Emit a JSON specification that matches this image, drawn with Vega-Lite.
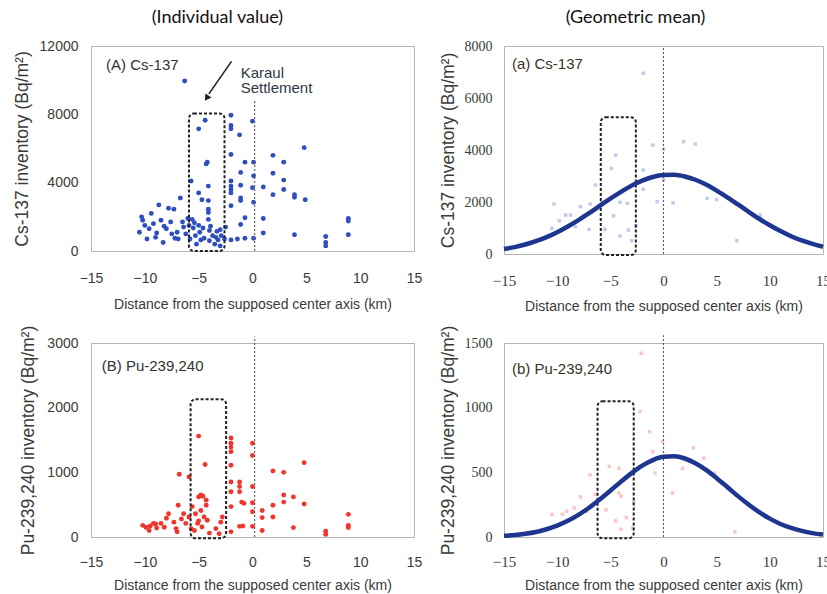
{
  "$schema": "https://vega.github.io/schema/vega-lite/v6.json",
  "padding": {"left": 12, "top": 8, "right": 0, "bottom": 0},
  "config": {
    "font": "Liberation Sans",
    "view": {"stroke": "#b5b5b5", "strokeWidth": 1},
    "axis": {"grid": false, "domain": false, "ticks": false, "labelColor": "#3a3a3a", "titleColor": "#3a3a3a", "titleFontWeight": "normal", "labelFont": "Liberation Sans", "titleFont": "Liberation Sans", "labelFlush": false, "labelOverlap": false},
    "title": {"font": "Lato", "fontSize": 18, "fontWeight": "normal", "color": "#111111", "offset": 12, "frame": "bounds"}
  },
  "datasets": {
    "csIndividual": [
      {"distance": -10.5, "inventory": 1100}, {"distance": -10.3, "inventory": 2000}, {"distance": -10.2, "inventory": 1800}, {"distance": -10.0, "inventory": 1500}, {"distance": -9.8, "inventory": 700}, {"distance": -9.6, "inventory": 1300}, {"distance": -9.4, "inventory": 2200}, {"distance": -9.2, "inventory": 1600}, {"distance": -9.0, "inventory": 800}, {"distance": -8.9, "inventory": 1050}, {"distance": -8.7, "inventory": 2700}, {"distance": -8.5, "inventory": 1800}, {"distance": -8.3, "inventory": 500}, {"distance": -8.2, "inventory": 1450}, {"distance": -8.0, "inventory": 1300}, {"distance": -7.8, "inventory": 2500}, {"distance": -7.6, "inventory": 1700}, {"distance": -7.5, "inventory": 1000}, {"distance": -7.3, "inventory": 2450}, {"distance": -7.2, "inventory": 750}, {"distance": -7.0, "inventory": 1100}, {"distance": -6.9, "inventory": 700}, {"distance": -6.7, "inventory": 3100}, {"distance": -6.5, "inventory": 1700}, {"distance": -6.4, "inventory": 1400}, {"distance": -6.3, "inventory": 9950}, {"distance": -6.2, "inventory": 1000}, {"distance": -6.0, "inventory": 1900}, {"distance": -5.9, "inventory": 1500}, {"distance": -5.8, "inventory": 700},
      {"distance": -5.7, "inventory": 4100}, {"distance": -5.6, "inventory": 1850}, {"distance": -5.5, "inventory": 1350}, {"distance": -5.4, "inventory": 1650}, {"distance": -5.3, "inventory": 900}, {"distance": -5.2, "inventory": 400}, {"distance": -5.0, "inventory": 3400}, {"distance": -5.0, "inventory": 7150}, {"distance": -5.0, "inventory": 1500}, {"distance": -4.9, "inventory": 1100}, {"distance": -4.8, "inventory": 650}, {"distance": -4.7, "inventory": 3000}, {"distance": -4.6, "inventory": 1350}, {"distance": -4.5, "inventory": 750}, {"distance": -4.4, "inventory": 7650}, {"distance": -4.3, "inventory": 5100}, {"distance": -4.2, "inventory": 5200}, {"distance": -4.1, "inventory": 3800}, {"distance": -4.1, "inventory": 2950}, {"distance": -4.1, "inventory": 2450}, {"distance": -4.1, "inventory": 2250}, {"distance": -4.1, "inventory": 1850}, {"distance": -4.0, "inventory": 1200}, {"distance": -4.0, "inventory": 600}, {"distance": -3.9, "inventory": 1450}, {"distance": -3.7, "inventory": 900}, {"distance": -3.5, "inventory": 400}, {"distance": -3.4, "inventory": 800}, {"distance": -3.3, "inventory": 1150}, {"distance": -3.2, "inventory": 650}, {"distance": -3.0, "inventory": 1250}, {"distance": -3.0, "inventory": 300}, {"distance": -2.9, "inventory": 900},
      {"distance": -2.0, "inventory": 7950}, {"distance": -2.0, "inventory": 7350}, {"distance": -2.0, "inventory": 7150}, {"distance": -1.2, "inventory": 6800}, {"distance": 0.0, "inventory": 7600}, {"distance": -2.0, "inventory": 5650}, {"distance": 1.9, "inventory": 5600}, {"distance": 4.8, "inventory": 6050}, {"distance": 2.9, "inventory": 5200}, {"distance": -0.7, "inventory": 5200}, {"distance": 0.1, "inventory": 5200}, {"distance": -1.1, "inventory": 4600}, {"distance": 1.9, "inventory": 4550}, {"distance": 0.1, "inventory": 4400}, {"distance": -2.0, "inventory": 4100}, {"distance": -2.0, "inventory": 3800}, {"distance": -2.0, "inventory": 3600}, {"distance": -2.0, "inventory": 3400}, {"distance": -1.1, "inventory": 3850}, {"distance": 0.0, "inventory": 3700}, {"distance": 1.0, "inventory": 3750}, {"distance": 2.9, "inventory": 4150}, {"distance": 2.9, "inventory": 3600}, {"distance": 3.9, "inventory": 3300}, {"distance": 3.9, "inventory": 3150}, {"distance": 1.9, "inventory": 3300}, {"distance": 4.9, "inventory": 3000}, {"distance": -1.1, "inventory": 3100}, {"distance": -1.1, "inventory": 2950}, {"distance": 0.1, "inventory": 2850}, {"distance": -2.0, "inventory": 2650}, {"distance": -2.0, "inventory": 650}, {"distance": -1.1, "inventory": 1550}, {"distance": -0.7, "inventory": 1950}, {"distance": 1.0, "inventory": 1900}, {"distance": 1.0, "inventory": 1050}, {"distance": -0.7, "inventory": 750}, {"distance": 0.1, "inventory": 750}, {"distance": -1.4, "inventory": 700}, {"distance": 3.9, "inventory": 950}, {"distance": 6.8, "inventory": 850}, {"distance": 6.8, "inventory": 500}, {"distance": 6.8, "inventory": 300}, {"distance": 8.9, "inventory": 1900}, {"distance": 8.9, "inventory": 1750}, {"distance": 8.9, "inventory": 950}, {"distance": -2.5, "inventory": 1400}, {"distance": -2.6, "inventory": 700}
    ],
    "puIndividual": [
      {"distance": -10.2, "inventory": 180}, {"distance": -9.9, "inventory": 150}, {"distance": -9.6, "inventory": 100}, {"distance": -9.5, "inventory": 170}, {"distance": -9.2, "inventory": 210}, {"distance": -9.0, "inventory": 200}, {"distance": -8.9, "inventory": 140}, {"distance": -8.5, "inventory": 210}, {"distance": -8.2, "inventory": 150}, {"distance": -8.0, "inventory": 290}, {"distance": -7.8, "inventory": 360}, {"distance": -7.3, "inventory": 230}, {"distance": -7.1, "inventory": 130}, {"distance": -7.0, "inventory": 80}, {"distance": -6.9, "inventory": 490}, {"distance": -6.8, "inventory": 970}, {"distance": -6.6, "inventory": 280}, {"distance": -6.4, "inventory": 360}, {"distance": -6.2, "inventory": 210}, {"distance": -5.9, "inventory": 930}, {"distance": -5.9, "inventory": 310}, {"distance": -5.7, "inventory": 130},
      {"distance": -5.6, "inventory": 470}, {"distance": -5.4, "inventory": 100}, {"distance": -5.3, "inventory": 360}, {"distance": -5.1, "inventory": 210}, {"distance": -5.0, "inventory": 1560}, {"distance": -5.0, "inventory": 620}, {"distance": -5.0, "inventory": 250}, {"distance": -4.8, "inventory": 410}, {"distance": -4.8, "inventory": 650}, {"distance": -4.7, "inventory": 155}, {"distance": -4.6, "inventory": 630}, {"distance": -4.5, "inventory": 310}, {"distance": -4.4, "inventory": 1120}, {"distance": -4.3, "inventory": 570}, {"distance": -4.3, "inventory": 490}, {"distance": -4.2, "inventory": 260}, {"distance": -4.0, "inventory": 60}, {"distance": -3.4, "inventory": 130}, {"distance": -3.1, "inventory": 50}, {"distance": -2.95, "inventory": 230}, {"distance": -2.8, "inventory": 310},
      {"distance": -2.0, "inventory": 1530}, {"distance": -2.0, "inventory": 1450}, {"distance": -2.0, "inventory": 1390}, {"distance": -2.0, "inventory": 1320}, {"distance": 0.0, "inventory": 1450}, {"distance": 0.0, "inventory": 1260}, {"distance": -2.0, "inventory": 1110}, {"distance": -2.0, "inventory": 850}, {"distance": -1.2, "inventory": 850}, {"distance": -1.2, "inventory": 780}, {"distance": -1.2, "inventory": 700}, {"distance": 0.0, "inventory": 780}, {"distance": -2.0, "inventory": 700}, {"distance": -2.0, "inventory": 470}, {"distance": -1.0, "inventory": 540}, {"distance": -0.8, "inventory": 520}, {"distance": 0.0, "inventory": 530}, {"distance": 0.0, "inventory": 390}, {"distance": 0.9, "inventory": 410}, {"distance": 0.9, "inventory": 300}, {"distance": 1.9, "inventory": 1020}, {"distance": 2.9, "inventory": 1000}, {"distance": 2.9, "inventory": 650}, {"distance": 2.9, "inventory": 540}, {"distance": 3.8, "inventory": 620}, {"distance": 4.8, "inventory": 1150}, {"distance": 4.8, "inventory": 510}, {"distance": 1.9, "inventory": 490}, {"distance": 1.9, "inventory": 310}, {"distance": 3.8, "inventory": 145}, {"distance": 0.9, "inventory": 100}, {"distance": 0.0, "inventory": 165}, {"distance": -1.2, "inventory": 165}, {"distance": -0.9, "inventory": 170}, {"distance": -2.0, "inventory": 80}, {"distance": 6.8, "inventory": 90}, {"distance": 6.8, "inventory": 40}, {"distance": 8.9, "inventory": 350}, {"distance": 8.9, "inventory": 180}, {"distance": 8.9, "inventory": 145}
    ],
    "csMean": [
      {"distance": -1.9, "inventory": 6950}, {"distance": -10.3, "inventory": 1920}, {"distance": -9.8, "inventory": 1280}, {"distance": -9.2, "inventory": 1500}, {"distance": -8.75, "inventory": 1500}, {"distance": -10.5, "inventory": 990}, {"distance": -7.8, "inventory": 1820}, {"distance": -6.9, "inventory": 1920}, {"distance": -6.4, "inventory": 2650}, {"distance": -7.0, "inventory": 950}, {"distance": -5.8, "inventory": 1970}, {"distance": -5.5, "inventory": 950}, {"distance": -4.9, "inventory": 3290}, {"distance": -4.5, "inventory": 3800}, {"distance": -4.1, "inventory": 1990}, {"distance": -4.7, "inventory": 1470}, {"distance": -4.1, "inventory": 690}, {"distance": -3.3, "inventory": 920}, {"distance": -3.0, "inventory": 510}, {"distance": -2.6, "inventory": 1080}, {"distance": -1.9, "inventory": 3230}, {"distance": -1.9, "inventory": 2490}, {"distance": -1.0, "inventory": 4190}, {"distance": 0.0, "inventory": 4030}, {"distance": 0.0, "inventory": 2850}, {"distance": -0.6, "inventory": 2010}, {"distance": 0.9, "inventory": 1970}, {"distance": 1.9, "inventory": 4320}, {"distance": 3.0, "inventory": 4230}, {"distance": 4.1, "inventory": 2140}, {"distance": 5.0, "inventory": 2100}, {"distance": 6.9, "inventory": 510}, {"distance": 9.1, "inventory": 1500}, {"distance": -3.4, "inventory": 1950}, {"distance": -8.3, "inventory": 1050}
    ],
    "puMean": [
      {"distance": -2.1, "inventory": 1420}, {"distance": -2.2, "inventory": 970}, {"distance": -1.3, "inventory": 815}, {"distance": -0.1, "inventory": 740}, {"distance": -1.0, "inventory": 660}, {"distance": -2.0, "inventory": 550}, {"distance": -0.8, "inventory": 495}, {"distance": 0.85, "inventory": 340}, {"distance": 1.8, "inventory": 530}, {"distance": 2.8, "inventory": 690}, {"distance": 3.8, "inventory": 610}, {"distance": 4.8, "inventory": 495}, {"distance": -6.9, "inventory": 480}, {"distance": -5.1, "inventory": 545}, {"distance": -4.2, "inventory": 530}, {"distance": -4.2, "inventory": 340}, {"distance": -4.0, "inventory": 315}, {"distance": -6.4, "inventory": 330}, {"distance": -7.8, "inventory": 310}, {"distance": -7.2, "inventory": 200}, {"distance": -9.1, "inventory": 200}, {"distance": -9.5, "inventory": 175}, {"distance": -10.5, "inventory": 175}, {"distance": -8.4, "inventory": 225}, {"distance": -5.4, "inventory": 210}, {"distance": -4.5, "inventory": 125}, {"distance": -4.0, "inventory": 60}, {"distance": -3.5, "inventory": 150}, {"distance": -2.9, "inventory": 70}, {"distance": -2.8, "inventory": 265}, {"distance": 8.9, "inventory": 200}, {"distance": 6.7, "inventory": 40}
    ],
    "csFit": [
      {"distance": -15, "inventory": 190}, {"distance": -14, "inventory": 265}, {"distance": -13, "inventory": 365}, {"distance": -12, "inventory": 495}, {"distance": -11, "inventory": 650}, {"distance": -10, "inventory": 840}, {"distance": -9, "inventory": 1060}, {"distance": -8, "inventory": 1305}, {"distance": -7, "inventory": 1570}, {"distance": -6, "inventory": 1850}, {"distance": -5, "inventory": 2130}, {"distance": -4, "inventory": 2390}, {"distance": -3, "inventory": 2630}, {"distance": -2, "inventory": 2820}, {"distance": -1, "inventory": 2960}, {"distance": 0, "inventory": 3035}, {"distance": 1, "inventory": 3045}, {"distance": 2, "inventory": 2980}, {"distance": 3, "inventory": 2855}, {"distance": 4, "inventory": 2670}, {"distance": 5, "inventory": 2440}, {"distance": 6, "inventory": 2180}, {"distance": 7, "inventory": 1905}, {"distance": 8, "inventory": 1625}, {"distance": 9, "inventory": 1355}, {"distance": 10, "inventory": 1105}, {"distance": 11, "inventory": 880}, {"distance": 12, "inventory": 685}, {"distance": 13, "inventory": 520}, {"distance": 14, "inventory": 390}, {"distance": 15, "inventory": 280}
    ],
    "puFit": [
      {"distance": -15, "inventory": 9}, {"distance": -14, "inventory": 15}, {"distance": -13, "inventory": 25}, {"distance": -12, "inventory": 39}, {"distance": -11, "inventory": 60}, {"distance": -10, "inventory": 88}, {"distance": -9, "inventory": 125}, {"distance": -8, "inventory": 171}, {"distance": -7, "inventory": 226}, {"distance": -6, "inventory": 290}, {"distance": -5, "inventory": 358}, {"distance": -4, "inventory": 428}, {"distance": -3, "inventory": 494}, {"distance": -2, "inventory": 552}, {"distance": -1, "inventory": 595}, {"distance": 0, "inventory": 620}, {"distance": 1, "inventory": 624}, {"distance": 2, "inventory": 607}, {"distance": 3, "inventory": 571}, {"distance": 4, "inventory": 519}, {"distance": 5, "inventory": 455}, {"distance": 6, "inventory": 386}, {"distance": 7, "inventory": 316}, {"distance": 8, "inventory": 251}, {"distance": 9, "inventory": 192}, {"distance": 10, "inventory": 142}, {"distance": 11, "inventory": 101}, {"distance": 12, "inventory": 70}, {"distance": 13, "inventory": 47}, {"distance": 14, "inventory": 30}, {"distance": 15, "inventory": 19}
    ]
  },
  "columns": 2,
  "spacing": {"row": 10, "column": 15},
  "concat": [
    {
      "width": 323, "height": 205,
      "title": {"text": "(Individual value)"},
      "layer": [
        {"data": {"name": "csIndividual"}, "mark": {"type": "circle", "size": 24, "opacity": 1, "color": "#2e4fbd"},
         "encoding": {
           "x": {"field": "distance", "type": "quantitative", "scale": {"domain": [-15, 15], "nice": false, "zero": false},
                 "axis": {"values": [-15, -10, -5, 0, 5, 10, 15], "title": "Distance from the supposed center axis (km)", "labelFontSize": 14, "labelPadding": 20, "titleFontSize": 14, "titlePadding": 12}},
           "y": {"field": "inventory", "type": "quantitative", "scale": {"domain": [0, 12000], "nice": false},
                 "axis": {"values": [0, 4000, 8000, 12000], "format": "d", "title": "Cs-137 inventory (Bq/m²)", "labelFontSize": 14, "labelPadding": 13, "titleFontSize": 17.5, "titlePadding": 8}}
         }},
        {"data": {"values": [{}]}, "mark": {"type": "rule", "color": "#666666", "strokeWidth": 1.2, "strokeDash": [2, 2]},
         "encoding": {"x": {"datum": 0.2}, "y": {"datum": 0}, "y2": {"datum": 8780}}},
        {"data": {"values": [{}]}, "mark": {"type": "rect", "fillOpacity": 0, "stroke": "#222222", "strokeWidth": 2, "strokeDash": [3, 2], "cornerRadius": 5},
         "encoding": {"x": {"datum": -5.9}, "x2": {"datum": -2.6}, "y": {"datum": 0}, "y2": {"datum": 8050}}},
        {"data": {"values": [{}]}, "mark": {"type": "rule", "color": "#222222", "strokeWidth": 1.6},
         "encoding": {"x": {"datum": -1.95}, "y": {"datum": 11100}, "x2": {"datum": -4.05}, "y2": {"datum": 9200}}},
        {"data": {"values": [{}]}, "mark": {"type": "point", "shape": "triangle", "filled": true, "color": "#222222", "size": 55, "angle": 214, "opacity": 1},
         "encoding": {"x": {"datum": -4.2}, "y": {"datum": 9000}}},
        {"data": {"values": [{"label": "(A) Cs-137"}]}, "mark": {"type": "text", "align": "left", "baseline": "middle", "fontSize": 15, "color": "#333333"},
         "encoding": {"x": {"datum": -13.6}, "y": {"datum": 10880}, "text": {"field": "label"}}},
        {"data": {"values": [{"label": ["Karaul", "Settlement"]}]}, "mark": {"type": "text", "align": "left", "baseline": "middle", "fontSize": 15, "lineHeight": 15, "color": "#2f3945"},
         "encoding": {"x": {"datum": -1.1}, "y": {"datum": 10430}, "text": {"field": "label"}}}
      ]
    },
    {
      "width": 319, "height": 208,
      "title": {"text": "(Geometric mean)"},
      "layer": [
        {"data": {"name": "csMean"}, "mark": {"type": "square", "size": 12, "opacity": 0.35, "color": "#5a62c4"},
         "encoding": {
           "x": {"field": "distance", "type": "quantitative", "scale": {"domain": [-15, 15], "nice": false, "zero": false},
                 "axis": {"values": [-15, -10, -5, 0, 5, 10, 15], "title": "Distance from the supposed center axis (km)", "labelFont": "Liberation Sans Narrow", "labelFontSize": 15, "labelPadding": 19, "titleFontSize": 14, "titlePadding": 11}},
           "y": {"field": "inventory", "type": "quantitative", "scale": {"domain": [0, 8000], "nice": false},
                 "axis": {"values": [0, 2000, 4000, 6000, 8000], "format": "d", "title": "Cs-137 inventory (Bq/m²)", "labelFont": "Liberation Sans Narrow", "labelFontSize": 14, "labelPadding": 12, "titleFontSize": 17.5, "titlePadding": 7}}
         }},
        {"data": {"values": [{}]}, "mark": {"type": "rule", "color": "#555555", "strokeWidth": 1.1, "strokeDash": [2, 2]},
         "encoding": {"x": {"datum": 0}, "y": {"datum": 0}, "y2": {"datum": 8000}}},
        {"data": {"values": [{}]}, "mark": {"type": "rect", "fillOpacity": 0, "stroke": "#222222", "strokeWidth": 2, "strokeDash": [3, 2], "cornerRadius": 5},
         "encoding": {"x": {"datum": -5.9}, "x2": {"datum": -2.6}, "y": {"datum": -40}, "y2": {"datum": 5260}}},
        {"data": {"name": "csFit"}, "mark": {"type": "line", "color": "#1f3690", "strokeWidth": 4.5, "interpolate": "monotone"},
         "encoding": {"x": {"field": "distance", "type": "quantitative"}, "y": {"field": "inventory", "type": "quantitative"}}},
        {"data": {"values": [{"label": "(a) Cs-137"}]}, "mark": {"type": "text", "align": "left", "baseline": "middle", "fontSize": 15, "color": "#3b3328"},
         "encoding": {"x": {"datum": -14.25}, "y": {"datum": 7300}, "text": {"field": "label"}}}
      ]
    },
    {
      "width": 323, "height": 194,
      "layer": [
        {"data": {"name": "puIndividual"}, "mark": {"type": "circle", "size": 24, "opacity": 1, "color": "#f0362c"},
         "encoding": {
           "x": {"field": "distance", "type": "quantitative", "scale": {"domain": [-15, 15], "nice": false, "zero": false},
                 "axis": {"values": [-15, -10, -5, 0, 5, 10, 15], "title": "Distance from the supposed center axis (km)", "labelFontSize": 14, "labelPadding": 18, "titleFontSize": 14, "titlePadding": 9}},
           "y": {"field": "inventory", "type": "quantitative", "scale": {"domain": [0, 3000], "nice": false},
                 "axis": {"values": [0, 1000, 2000, 3000], "format": "d", "title": "Pu-239,240 inventory (Bq/m²)", "labelFontSize": 14, "labelPadding": 13, "titleFontSize": 17.5, "titlePadding": 9}}
         }},
        {"data": {"values": [{}]}, "mark": {"type": "rule", "color": "#666666", "strokeWidth": 1.2, "strokeDash": [2, 2]},
         "encoding": {"x": {"datum": 0.2}, "y": {"datum": 0}, "y2": {"datum": 3100}}},
        {"data": {"values": [{}]}, "mark": {"type": "rect", "fillOpacity": 0, "stroke": "#222222", "strokeWidth": 2, "strokeDash": [3, 2], "cornerRadius": 5},
         "encoding": {"x": {"datum": -5.75}, "x2": {"datum": -2.45}, "y": {"datum": -20}, "y2": {"datum": 2130}}},
        {"data": {"values": [{"label": "(B) Pu-239,240"}]}, "mark": {"type": "text", "align": "left", "baseline": "middle", "fontSize": 15, "color": "#333333"},
         "encoding": {"x": {"datum": -14.0}, "y": {"datum": 2640}, "text": {"field": "label"}}}
      ]
    },
    {
      "width": 319, "height": 194,
      "layer": [
        {"data": {"name": "puMean"}, "mark": {"type": "square", "size": 12, "opacity": 0.35, "color": "#ee5a5a"},
         "encoding": {
           "x": {"field": "distance", "type": "quantitative", "scale": {"domain": [-15, 15], "nice": false, "zero": false},
                 "axis": {"values": [-15, -10, -5, 0, 5, 10, 15], "title": "Distance from the supposed center axis (km)", "labelFont": "Liberation Sans Narrow", "labelFontSize": 15, "labelPadding": 17, "titleFontSize": 14, "titlePadding": 9}},
           "y": {"field": "inventory", "type": "quantitative", "scale": {"domain": [0, 1500], "nice": false},
                 "axis": {"values": [0, 500, 1000, 1500], "format": "d", "title": "Pu-239,240 inventory (Bq/m²)", "labelFont": "Liberation Sans Narrow", "labelFontSize": 14, "labelPadding": 12, "titleFontSize": 17.5, "titlePadding": 7}}
         }},
        {"data": {"values": [{}]}, "mark": {"type": "rule", "color": "#555555", "strokeWidth": 1.1, "strokeDash": [2, 2]},
         "encoding": {"x": {"datum": 0}, "y": {"datum": 0}, "y2": {"datum": 1560}}},
        {"data": {"values": [{}]}, "mark": {"type": "rect", "fillOpacity": 0, "stroke": "#222222", "strokeWidth": 2, "strokeDash": [3, 2], "cornerRadius": 5},
         "encoding": {"x": {"datum": -6.2}, "x2": {"datum": -2.8}, "y": {"datum": -10}, "y2": {"datum": 1050}}},
        {"data": {"name": "puFit"}, "mark": {"type": "line", "color": "#1f3690", "strokeWidth": 4.5, "interpolate": "monotone"},
         "encoding": {"x": {"field": "distance", "type": "quantitative"}, "y": {"field": "inventory", "type": "quantitative"}}},
        {"data": {"values": [{"label": "(b) Pu-239,240"}]}, "mark": {"type": "text", "align": "left", "baseline": "middle", "fontSize": 15, "color": "#3b3328"},
         "encoding": {"x": {"datum": -14.25}, "y": {"datum": 1300}, "text": {"field": "label"}}}
      ]
    }
  ]
}
